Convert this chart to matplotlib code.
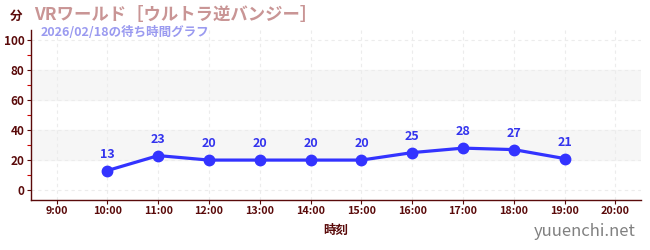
import numpy as np
import matplotlib.pyplot as plt

plt.rcParams['font.family'] = ['Noto Sans CJK JP', 'DejaVu Sans']

hours = [10, 11, 12, 13, 14, 15, 16, 17, 18, 19]
waits = [13, 23, 20, 20, 20, 20, 25, 28, 27, 21]
tick_hours = list(range(9, 21))
tick_labels = ["%d:00" % h for h in tick_hours]

title = "VRワールド［ウルトラ逆バンジー］"
subtitle = "2026/02/18の待ち時間グラフ"
dark = "#5a0a0a"

fig = plt.figure(figsize=(6.5, 2.5), dpi=100)
ax = fig.add_axes([0.048, 0.2, 0.938, 0.68])

# bands
for lo, hi in [(20, 40), (60, 80)]:
    ax.axhspan(lo, hi, color="#f6f6f6", zorder=0)

ax.plot(hours, waits, color="#3333ff", lw=2.3, marker="o", ms=7.5, zorder=3)
for h, w in zip(hours, waits):
    ax.annotate(str(w), (h, w), xytext=(0, 7), textcoords="offset points",
                ha="center", va="bottom", color="#3333ee", fontsize=9, fontweight="bold")

ax.set_xlim(8.5, 20.5)
ax.set_ylim(-6.7, 107)
ax.set_xticks(tick_hours)
ax.set_xticklabels(tick_labels)
ax.set_yticks([0, 20, 40, 60, 80, 100])
ax.set_yticks([10, 30, 50, 70, 90], minor=True)
ax.grid(True, color="#ececec", ls=(0, (3, 3)), lw=0.8)
ax.tick_params(axis="x", colors=dark, labelsize=7.8, length=3, width=0.8, pad=1)
ax.tick_params(axis="y", colors=dark, labelsize=8.5, length=3, width=0.8, pad=2)
ax.tick_params(axis="y", which="minor", colors="#cc0000", length=3, width=0.8)
for lab in ax.get_xticklabels() + ax.get_yticklabels():
    lab.set_fontweight("bold")
    lab.set_color(dark)

for s in ["top", "right"]:
    ax.spines[s].set_visible(False)
for s in ["left", "bottom"]:
    ax.spines[s].set_color(dark)
    ax.spines[s].set_linewidth(1.0)

ax.set_xlabel("時刻", color=dark, fontsize=9, fontweight="bold", labelpad=6)

fig.text(0.015, 0.935, "分", color=dark, fontsize=9, fontweight="bold", va="center")
fig.text(0.052, 0.94, title, color="#c99595", fontsize=12.5, fontweight="bold", va="center")
fig.text(0.062, 0.872, subtitle, color="#9a9af0", fontsize=9, fontweight="bold", va="center")
fig.text(0.978, 0.075, "yuuenchi.net", color="#808080", fontsize=12, ha="right", va="center")

fig.savefig("out.png", dpi=100)
